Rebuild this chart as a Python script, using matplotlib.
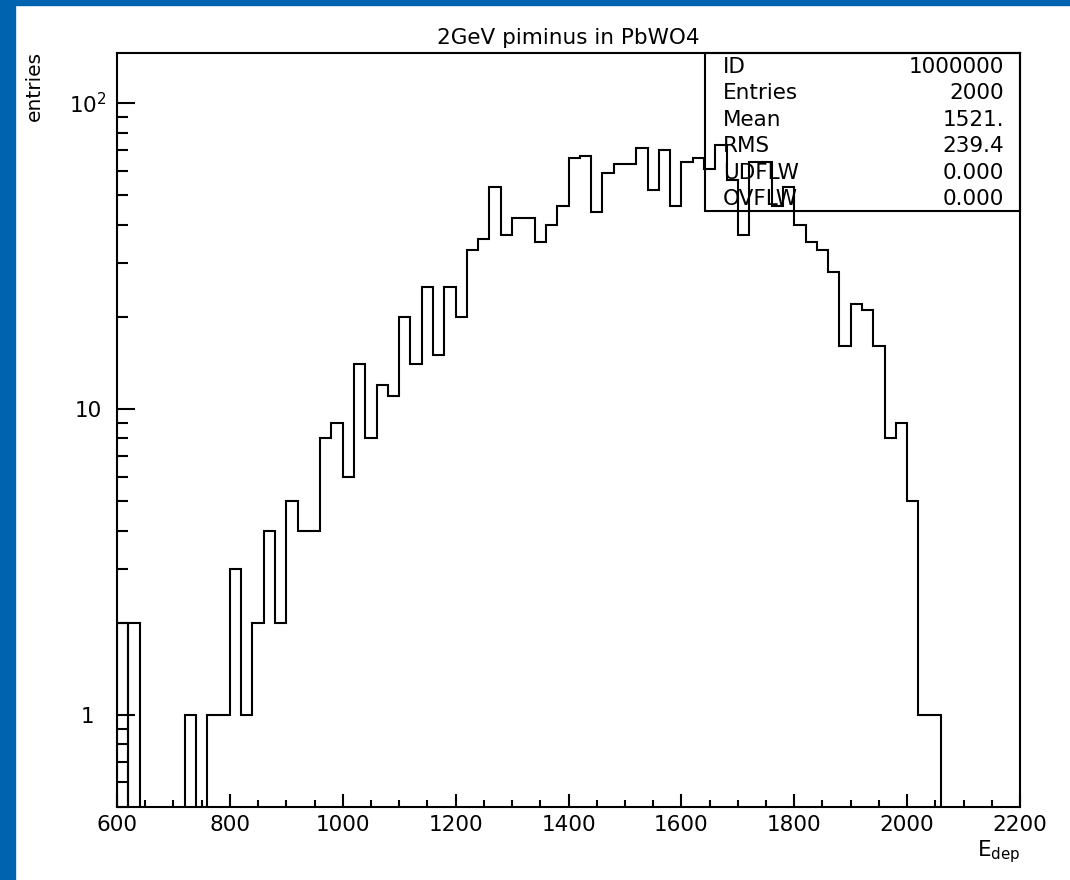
import numpy as np
import matplotlib
matplotlib.use("Agg")
import matplotlib.pyplot as plt
from matplotlib.patches import Rectangle
from matplotlib.ticker import MultipleLocator, LogLocator, NullFormatter

# ---- data ----
bin_start = 600
bin_width = 20
counts = [2, 2, 0, 0, 0, 0, 1, 0, 1, 1,
          3, 1, 2, 4, 2, 5, 4, 4, 8, 9,
          6, 14, 8, 12, 11, 20, 14, 25, 15, 25,
          20, 33, 36, 53, 37, 42, 42, 35, 40, 46,
          66, 67, 44, 59, 63, 63, 71, 52, 70, 46,
          64, 66, 61, 73, 56, 37, 64, 64, 46, 53,
          40, 35, 33, 28, 16, 22, 21, 16, 8, 9,
          5, 1, 1]
title = "2GeV piminus in PbWO4"
stat_labels = ["ID", "Entries", "Mean", "RMS", "UDFLW", "OVFLW"]
stat_values = ["1000000", "2000", "1521.", "239.4", "0.000", "0.000"]
x_ticks = [600, 800, 1000, 1200, 1400, 1600, 1800, 2000, 2200]
y_ticks = [1, 10, 100]
y_ticklabels = ["1", "10", r"$10^{2}$"]

counts = np.array(counts, dtype=float)
edges = bin_start + bin_width * np.arange(len(counts) + 1)
floor = 1e-3
plot_vals = np.where(counts > 0, counts, floor)

W, H = 1070, 880
fig = plt.figure(figsize=(W / 100, H / 100), dpi=100)
fig.patch.set_facecolor("white")
blue = "#0063B0"
fig.add_artist(Rectangle((0, 0), 15 / W, 1, transform=fig.transFigure,
                         color=blue, zorder=0))
fig.add_artist(Rectangle((0, 1 - 5 / H), 1, 5 / H, transform=fig.transFigure,
                         color=blue, zorder=0))

ax_l, ax_r, ax_t, ax_b = 117, 1020, 52.7, 806.7
ax = fig.add_axes([ax_l / W, 1 - ax_b / H, (ax_r - ax_l) / W, (ax_b - ax_t) / H])

plt.rcParams['font.family'] = ['DejaVu Sans']
fs = 15.5
lw = 1.5

ax.stairs(plot_vals[:1], edges[:2], baseline=floor, color="black", lw=lw)
ax.stairs(plot_vals[1:], edges[1:], baseline=floor, color="black", lw=lw)

ax.set_yscale("log")
ax.set_xlim(600, 2200)
ax.set_ylim(0.5, 146)

for s in ax.spines.values():
    s.set_linewidth(lw)
    s.set_color("black")

ax.set_xticks(x_ticks)
ax.set_xticklabels([str(v) for v in x_ticks])
ax.xaxis.set_minor_locator(MultipleLocator(50))
ax.set_yticks(y_ticks)
ax.set_yticklabels(y_ticklabels)
ax.yaxis.set_minor_locator(LogLocator(base=10, subs=np.arange(2, 10) * 1.0, numticks=20))
ax.yaxis.set_minor_formatter(NullFormatter())

ax.tick_params(axis="x", which="major", direction="in", length=9.5, width=lw,
               labelsize=fs, pad=6, top=False)
ax.tick_params(axis="x", which="minor", direction="in", length=5, width=lw, top=False)
ax.tick_params(axis="y", which="major", direction="in", length=13, width=lw,
               labelsize=fs, pad=21, right=False)
ax.tick_params(axis="y", which="minor", direction="in", length=8, width=lw, right=False)
for lab in ax.get_yticklabels():
    lab.set_horizontalalignment("center")

# title
ax.text(0.5, 1 + (ax_t - 38) / (ax_b - ax_t), title, transform=ax.transAxes,
        ha="center", va="center", fontsize=fs)

# stats box
bx0 = (705 - ax_l) / (ax_r - ax_l)
by0 = (ax_b - 211) / (ax_b - ax_t)
ax.add_patch(Rectangle((bx0, by0), 1 - bx0, 1 - by0, transform=ax.transAxes,
                       fill=False, lw=lw, edgecolor="black", clip_on=False))
xl = (722.7 - ax_l) / (ax_r - ax_l)
xr = (1004.3 - ax_l) / (ax_r - ax_l)
for i, (lab, val) in enumerate(zip(stat_labels, stat_values)):
    yy = (ax_b - (67 + 26.4 * i)) / (ax_b - ax_t)
    ax.text(xl, yy, lab, transform=ax.transAxes, ha="left", va="center", fontsize=fs)
    ax.text(xr, yy, val, transform=ax.transAxes, ha="right", va="center", fontsize=fs)

# axis labels
fig.text(34 / W, 1 - 86 / H, "entries", rotation=90, ha="center", va="center", fontsize=fs - 1)
fig.text(1020 / W, 1 - 852 / H, r"E$_{\mathrm{dep}}$", ha="right", va="center", fontsize=fs)

fig.savefig("out.png", dpi=100, facecolor="white")
